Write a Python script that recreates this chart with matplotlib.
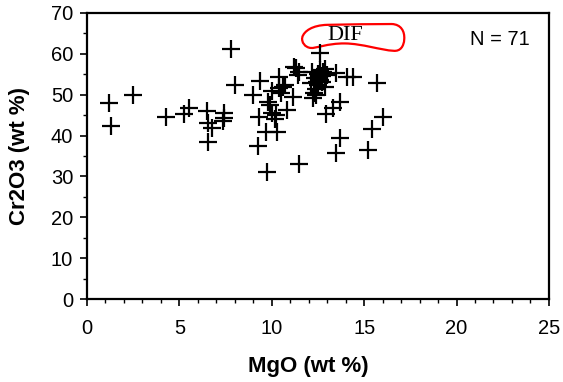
import numpy as np
import matplotlib.pyplot as plt
from matplotlib.ticker import MultipleLocator
from matplotlib.path import Path
from matplotlib.patches import PathPatch

plt.rcParams['font.family'] = ['Liberation Sans', 'DejaVu Sans']

# MgO (wt %) vs Cr2O3 (wt %), 71 analyses
mgo = [1.2, 1.3, 2.5, 4.3, 5.25, 5.5, 6.5, 7.4, 6.55, 7.35, 6.75, 6.55, 7.4,
       7.8, 8.0, 9.0, 9.35, 9.3, 9.25, 9.75, 9.7, 10.3, 9.8, 10.0, 10.4, 10.4,
       10.6, 10.25, 10.8, 11.15, 10.0, 9.9, 10.5, 11.3, 11.5, 11.2, 11.4, 11.5,
       10.2, 10.7,
       12.6, 12.25, 12.3, 12.4, 12.5, 12.6, 12.7, 12.8, 12.5, 12.35, 12.9, 12.6,
       12.45, 12.2, 12.7, 13.0, 12.15, 12.4, 12.9,
       13.5, 14.05, 14.4, 15.7, 13.7, 13.3, 12.95, 16.0, 15.4, 13.7, 13.5, 15.2]
cr2o3 = [48.1, 42.4, 49.9, 44.6, 45.4, 46.7, 46.1, 45.6, 43.0, 43.6, 41.8, 38.5, 44.3,
         61.2, 52.4, 49.9, 53.3, 44.6, 37.4, 31.2, 40.9, 40.9, 48.3, 51.0, 54.4, 51.6,
         52.0, 45.0, 46.3, 49.5, 45.5, 47.5, 50.5, 56.5, 55.6, 56.9, 54.8, 33.0,
         44.0, 52.5,
         60.1, 49.1, 50.5, 51.5, 52.5, 53.5, 54.5, 55.5, 55.0, 54.0, 56.3, 56.0,
         53.0, 55.5, 53.0, 54.8, 52.8, 50.0, 52.0,
         55.2, 54.4, 54.4, 52.9, 48.3, 46.7, 45.4, 44.6, 41.5, 39.3, 35.8, 36.6]

# hand-drawn red loop round the DIF label (bezier: start, then control, control, end)
loop_pts = [(11.65, 64.05),
            (11.75, 65.6), (12.2, 67.0), (13.0, 67.1),
            (14.2, 67.2), (15.5, 67.3), (16.5, 67.3),
            (17.0, 67.2), (17.2, 65.5), (17.17, 63.6),
            (17.15, 61.8), (16.95, 60.6), (16.6, 60.75),
            (15.9, 60.9), (14.9, 62.5), (13.96, 62.55),
            (13.0, 62.6), (12.4, 61.3), (12.1, 61.45),
            (11.8, 61.6), (11.6, 62.8), (11.65, 64.05)]

fig = plt.figure(figsize=(5.63, 3.82), dpi=100)
ax = fig.add_axes([0.1545, 0.217, 0.8205, 0.749])

ax.plot(mgo, cr2o3, linestyle='none', marker='+', color='black',
        markersize=13, markeredgewidth=1.6)

codes = [Path.MOVETO] + [Path.CURVE4] * (len(loop_pts) - 1)
ax.add_patch(PathPatch(Path(loop_pts, codes), facecolor='none',
                       edgecolor='red', linewidth=1.6))

ax.text(13.99, 64.5, 'DIF', family='Liberation Serif', fontsize=16,
        ha='center', va='center')
ax.text(22.35, 63.4, 'N = 71', fontsize=14.5, ha='center', va='center')

ax.set_xlim(0, 25)
ax.set_ylim(0, 70)
ax.xaxis.set_major_locator(MultipleLocator(5))
ax.xaxis.set_minor_locator(MultipleLocator(1))
ax.yaxis.set_major_locator(MultipleLocator(10))
ax.yaxis.set_minor_locator(MultipleLocator(5))
ax.tick_params(which='major', direction='out', length=5, width=1.2, labelsize=14.5)
ax.tick_params(which='minor', direction='out', length=3, width=1.0)
ax.tick_params(axis='x', pad=9)
ax.tick_params(axis='y', pad=5)
for s in ax.spines.values():
    s.set_linewidth(1.6)

ax.set_xlabel('MgO (wt %)', fontsize=16, fontweight='bold')
ax.set_ylabel('Cr2O3 (wt %)', fontsize=16, fontweight='bold')
ax.xaxis.set_label_coords(0.48, -0.2)
ax.yaxis.set_label_coords(-0.123, 0.5)

fig.savefig('out.png', dpi=100)
